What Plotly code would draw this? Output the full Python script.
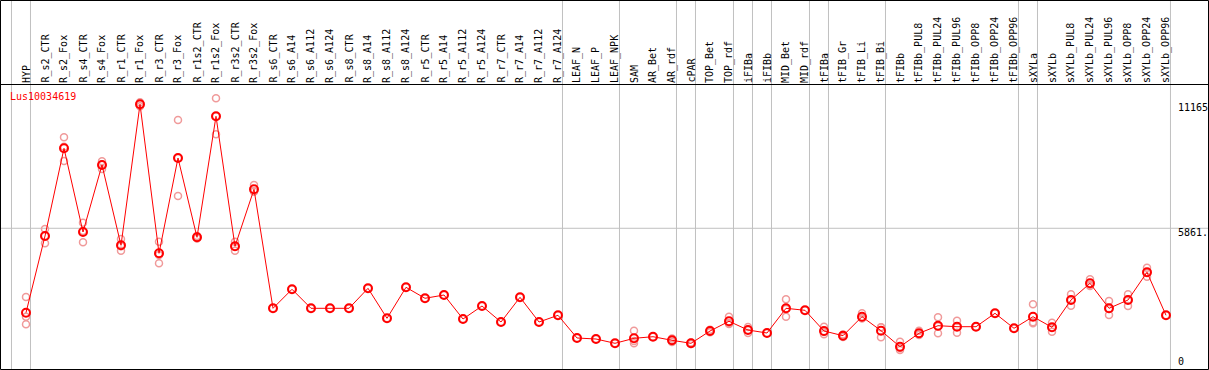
import plotly.graph_objects as go

# ---------------- data ----------------
categories = [
    "HYP", "R_s2_CTR", "R_s2_Fox", "R_s4_CTR", "R_s4_Fox", "R_r1_CTR", "R_r1_Fox",
    "R_r3_CTR", "R_r3_Fox", "R_r1s2_CTR", "R_r1s2_Fox", "R_r3s2_CTR", "R_r3s2_Fox",
    "R_s6_CTR", "R_s6_A14", "R_s6_A112", "R_s6_A124", "R_s8_CTR", "R_s8_A14",
    "R_s8_A112", "R_s8_A124", "R_r5_CTR", "R_r5_A14", "R_r5_A112", "R_r5_A124",
    "R_r7_CTR", "R_r7_A14", "R_r7_A112", "R_r7_A124", "LEAF_N", "LEAF_P", "LEAF_NPK",
    "SAM", "AR_Bet", "AR_rdf", "cPAR", "TOP_Bet", "TOP_rdf", "iFIBa", "iFIBb",
    "MID_Bet", "MID_rdf", "tFIBa", "tFIB_Gr", "tFIB_Li", "tFIB_Bi", "tFIBb",
    "tFIBb_PUL8", "tFIBb_PUL24", "tFIBb_PUL96", "tFIBb_OPP8", "tFIBb_OPP24",
    "tFIBb_OPP96", "sXYLa", "sXYLb", "sXYLb_PUL8", "sXYLb_PUL24", "sXYLb_PUL96",
    "sXYLb_OPP8", "sXYLb_OPP24", "sXYLb_OPP96",
]

means = [
    2250, 5530, 9281, 5701, 8567, 5132, 11165, 4790, 8866, 5475, 10650, 5090, 7528,
    2438, 3251, 2438, 2438, 2438, 3293, 2010, 3336, 2866, 3007, 1980, 2536, 1852,
    2908, 1852, 2139, 1168, 1125, 941, 1155, 1223, 1069, 941, 1467, 1882, 1510,
    1381, 2438, 2352, 1467, 1266, 2079, 1480, 796, 1369, 1694, 1651, 1651, 2224,
    1582, 2079, 1625, 2793, 3507, 2438, 2793, 3978, 2139,
]

replicates = [
    [2921, 2079, 1754], [5830, 5530, 5218], [9752, 9350, 8738], [6099, 5744, 5261],
    [8725, 8580, 8396], [5402, 5090, 4901], [11080, 11165, 11250], [5286, 4718, 4363],
    [10491, 8866, 7241], [5530, 5475, 5420], [11420, 10650, 9880], [5286, 5073, 4901],
    [7712, 7433, 7433], [2438], [3251], [2438], [2438], [2438], [3293], [2010], [3336],
    [2866], [3007], [1980], [2536], [1852], [2908], [1852], [2139], [1168], [1125],
    [941], [1480, 1039, 941], [1223], [1144, 1069, 996], [975, 941, 911],
    [1523, 1467, 1411], [2079, 1796, 1766], [1638, 1510, 1381], [1381],
    [2823, 2408, 2079], [2352], [1651, 1424, 1326], [1317, 1266, 1210],
    [2224, 2010, 2010], [1625, 1625, 1198], [1009, 727, 654], [1480, 1326, 1296],
    [2053, 1668, 1369], [1908, 1651, 1394], [1651], [2224], [1582],
    [2609, 1839, 1796], [1822, 1608, 1437], [3037, 2793, 2549], [3678, 3447, 3392],
    [2750, 2408, 2151], [3037, 2806, 2536], [4174, 3961, 3789], [2139],
]

# group separators: drawn after these category indices (0-based)
separators_after = [-1, 0, 28, 31, 34, 35, 37, 38, 39, 41, 42, 45, 52, 53, 60]

gene_id = "Lus10034619"
grid_value = 5861
axis_labels = ["11165", "5861.", "0"]

# ---------------- layout constants ----------------
W, H = 1209, 370
X_FIRST_PX = 26.0     # pixel of first category
X_STEP_PX = 19.0      # pixel step per category
Y_ZERO_PX = 365.3     # pixel row of value 0
Y_PX_PER_UNIT = 0.02338
HEADER_PX = 84.5      # black separator line under labels

x_lo = -X_FIRST_PX / X_STEP_PX
x_hi = x_lo + W / X_STEP_PX
y_hi = Y_ZERO_PX / Y_PX_PER_UNIT
y_lo = y_hi - H / Y_PX_PER_UNIT


def py(px):
    """paper y from pixel row"""
    return 1 - px / H


def px_x(px):
    return px / W


FONT = "DejaVu Sans Mono"
GREY = "#c0c0c0"

idx = list(range(len(categories)))
rx, ry = [], []
for i, reps in enumerate(replicates):
    for v in reps:
        rx.append(i)
        ry.append(v)

fig = go.Figure()
fig.add_trace(go.Scatter(
    x=rx, y=ry, mode="markers",
    marker=dict(symbol="circle-open", size=7, color="#f09a9a", line=dict(width=1.5)),
    hoverinfo="y", showlegend=False,
))
fig.add_trace(go.Scatter(
    x=idx, y=means, mode="lines+markers",
    line=dict(color="#ff0000", width=1),
    marker=dict(symbol="circle-open", size=8, color="#ff0000", line=dict(width=2)),
    text=categories, hoverinfo="text+y", showlegend=False,
))

shapes = []
for k in separators_after:
    xv = k + 0.235
    shapes.append(dict(type="line", xref="x", yref="paper", x0=xv, x1=xv, y0=0, y1=1,
                       line=dict(color=GREY, width=1), layer="below"))
shapes.append(dict(type="line", xref="paper", yref="y", x0=0, x1=1, y0=grid_value, y1=grid_value,
                   line=dict(color=GREY, width=1), layer="below"))
shapes.append(dict(type="line", xref="paper", yref="paper", x0=0, x1=1,
                   y0=py(HEADER_PX), y1=py(HEADER_PX), line=dict(color="black", width=1)))
shapes.append(dict(type="rect", xref="paper", yref="paper",
                   x0=px_x(0.5), x1=px_x(W - 0.5), y0=py(H - 0.5), y1=py(0.5),
                   line=dict(color="black", width=1)))

annotations = []
for i, c in enumerate(categories):
    annotations.append(dict(
        x=i, y=py(HEADER_PX + 0.5), xref="x", yref="paper", text=c, textangle=-90,
        xanchor="center", yanchor="bottom", showarrow=False,
        font=dict(family=FONT, size=10, color="black"),
    ))
annotations.append(dict(
    x=px_x(8), y=py(96.5), xref="paper", yref="paper", text=gene_id,
    xanchor="left", yanchor="middle", showarrow=False,
    font=dict(family=FONT, size=10, color="#ff0000"),
))
label_center_px = [107.5, 232.5, 361.7]
for t, cpx in zip(axis_labels, label_center_px):
    annotations.append(dict(
        x=px_x(1176), y=py(cpx), xref="paper", yref="paper", text=t,
        xanchor="left", yanchor="middle", showarrow=False,
        font=dict(family=FONT, size=10, color="black"),
    ))

fig.update_layout(
    width=W, height=H, autosize=False,
    margin=dict(l=0, r=0, t=0, b=0, pad=0),
    paper_bgcolor="white", plot_bgcolor="white",
    xaxis=dict(range=[x_lo, x_hi], visible=False, showgrid=False, zeroline=False, fixedrange=True),
    yaxis=dict(range=[y_lo, y_hi], visible=False, showgrid=False, zeroline=False, fixedrange=True),
    shapes=shapes, annotations=annotations, showlegend=False,
)

fig.write_html(
    "out.html",
    config={"displayModeBar": False},
    post_script="document.body.style.margin='0';document.body.style.padding='0';document.body.style.overflow='hidden';",
)
